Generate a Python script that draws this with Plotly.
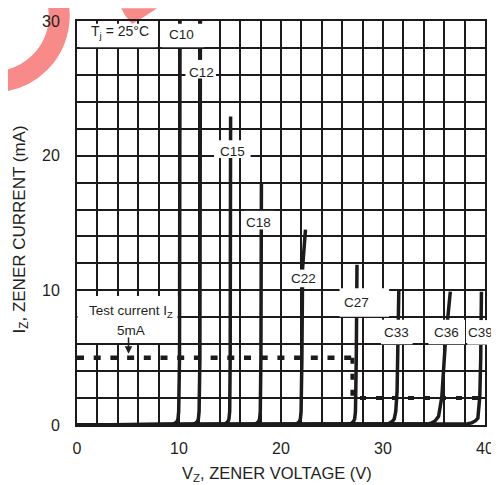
import plotly.graph_objects as go

# ---------------- data ----------------
diodes = ["C10", "C12", "C15", "C18", "C22", "C27", "C33", "C36", "C39"]
v_c10 = [0.0, 9.3, 9.6, 9.8, 9.9, 9.97, 10.05, 10.1]
i_c10 = [0.0, 0.05, 0.12, 0.25, 0.45, 1.0, 5.0, 30.0]
v_c12 = [0.0, 11.3, 11.6, 11.8, 11.9, 11.97, 12.05, 12.1]
i_c12 = [0.0, 0.05, 0.12, 0.25, 0.45, 1.0, 5.0, 30.0]
v_c15 = [0.0, 14.3, 14.6, 14.8, 14.9, 14.97, 15.02, 15.06]
i_c15 = [0.0, 0.05, 0.12, 0.25, 0.45, 1.0, 5.0, 22.9]
v_c18 = [0.0, 17.3, 17.6, 17.8, 17.9, 17.97, 18.03, 18.08]
i_c18 = [0.0, 0.05, 0.12, 0.25, 0.45, 1.0, 5.0, 17.9]
v_c22 = [0.0, 21.3, 21.6, 21.8, 21.9, 21.97, 22.05, 22.12, 22.4]
i_c22 = [0.0, 0.05, 0.12, 0.25, 0.45, 1.0, 5.0, 11.7, 14.5]
v_c27 = [0.0, 26.6, 26.9, 27.1, 27.22, 27.3, 27.38, 27.45]
i_c27 = [0.0, 0.05, 0.12, 0.25, 0.45, 1.0, 5.0, 11.9]
v_c33 = [0.0, 30.2, 30.6, 30.9, 31.1, 31.25, 31.38, 31.45, 31.55]
i_c33 = [0.0, 0.05, 0.12, 0.25, 0.45, 1.0, 2.5, 5.0, 10.0]
v_c36 = [0.0, 34.0, 34.5, 34.8, 35.1, 35.45, 35.77, 36.1, 36.6]
i_c36 = [0.0, 0.04, 0.1, 0.16, 0.3, 0.64, 2.1, 6.0, 9.9]
v_c39 = [0.0, 37.8, 38.3, 38.7, 39.05, 39.3, 39.49, 39.58, 39.65]
i_c39 = [0.0, 0.04, 0.1, 0.16, 0.3, 0.5, 2.1, 5.0, 9.9]

test_v = [0.0, 27.6]
test_i = [5.0, 5.0]
low_v = [27.0, 27.0, 40.0]
low_i = [5.0, 2.0, 2.0]

x_ticks = [0, 10, 20, 30, 40]
y_ticks = [0, 10, 20, 30]

curves = [(v_c10, i_c10), (v_c12, i_c12), (v_c15, i_c15), (v_c18, i_c18),
          (v_c22, i_c22), (v_c27, i_c27), (v_c33, i_c33), (v_c36, i_c36),
          (v_c39, i_c39)]

INK = "#1c1a1a"
TXT = "#231f20"
FONT = "Liberation Sans, Arial, sans-serif"
PINK = "#f98a8a"

fig = go.Figure()
for name, (v, i) in zip(diodes, curves):
    fig.add_trace(go.Scatter(x=v, y=i, mode="lines", name=name,
                             line=dict(color=INK, width=3.5), hoverinfo="skip"))

fig.add_trace(go.Scatter(x=test_v, y=test_i, mode="lines",
                         line=dict(color=INK, width=4.5, dash="7px,9.7px")))
fig.add_trace(go.Scatter(x=low_v, y=low_i, mode="lines",
                         line=dict(color=INK, width=4, dash="6px,10px")))

# ---------------- layout geometry (page pixels; page body has an 8px margin) ----------------
BODY = 8
L, T, W, H = 77, 13, 413, 412   # plot area position on the page
PAGE_W, PAGE_H = 499, 485


def pp(px, py):
    return (px - L) / W, (T + H - py) / H


shapes = []
# watermark ring
x0, y1 = pp(-75, -59)
x1, y0 = pp(59, 75)
shapes.append(dict(type="circle", xref="paper", yref="paper", x0=x0, x1=x1, y0=y0, y1=y1,
                   line=dict(color=PINK, width=21), fillcolor="rgba(0,0,0,0)", layer="below"))
pts = [pp(121.7, 0), pp(158, 0), pp(145, 9), pp(133, 16), pp(130, 13), pp(125, 7)]
path = ("M {:.4f},{:.4f} L {:.4f},{:.4f} Q {:.4f},{:.4f} {:.4f},{:.4f} "
        "L {:.4f},{:.4f} Q {:.4f},{:.4f} {:.4f},{:.4f} Z").format(
    pts[0][0], pts[0][1], pts[1][0], pts[1][1], pts[2][0], pts[2][1], pts[3][0], pts[3][1],
    pts[4][0], pts[4][1], pts[5][0], pts[5][1], pts[0][0], pts[0][1])
shapes.append(dict(type="path", xref="paper", yref="paper", path=path,
                   fillcolor=PINK, line=dict(width=0), layer="below"))

# white label boxes (data coords)
boxes = [
    (0.26, 7.82, 28.06, 29.8),
    (8.3, 12.47, 28.06, 29.8),
    (10.63, 13.63, 25.73, 27.11),
    (13.44, 17.02, 19.83, 21.15),
    (16.35, 19.35, 14.52, 15.9),
    (20.8, 23.7, 10.23, 11.54),
    (25.74, 30.6, 8.04, 10.15),
    (29.8, 32.9, 6.0, 7.82),
    (34.46, 38.04, 6.0, 7.82),
    (0.05, 9.85, 6.08, 9.57),
]
for bx0, bx1, by0, by1 in boxes:
    shapes.append(dict(type="rect", xref="x", yref="y", x0=bx0, x1=bx1, y0=by0, y1=by1,
                       fillcolor="white", line=dict(width=0), layer="above"))
# C39 box runs past the frame
cx0, cy1 = pp(472, 318)
cx1, cy0 = pp(499, 343)
shapes.append(dict(type="rect", xref="paper", yref="paper", x0=cx0, x1=cx1, y0=cy0, y1=cy1,
                   fillcolor="white", line=dict(width=0), layer="above"))

labels = [
    ("T<sub>j</sub> = 25°C", 4.23, 29.15, 14),
    ("C10", 10.24, 28.97, 13.5),
    ("C12", 12.18, 26.2, 13.5),
    ("C15", 15.28, 20.34, 13.5),
    ("C18", 17.78, 15.07, 13.5),
    ("C22", 22.23, 10.88, 13.5),
    ("C27", 27.44, 9.13, 13.5),
    ("C33", 31.37, 6.88, 13.5),
    ("C36", 36.21, 6.88, 13.5),
    ("C39", 39.6, 6.88, 13.5),
    ("Test current I<sub>Z</sub>", 5.3, 8.4, 13.5),
    ("5mA", 5.3, 7.0, 13.5),
]
annotations = []
for text, x, y, fs in labels:
    annotations.append(dict(text=text, x=x, y=y, xref="x", yref="y", showarrow=False,
                            font=dict(family=FONT, size=fs, color=TXT),
                            xanchor="center", yanchor="middle"))
annotations.append(dict(text="", x=5.05, y=5.3, ax=5.05, ay=6.6, xref="x", yref="y",
                        axref="x", ayref="y", showarrow=True, arrowhead=2, arrowsize=1,
                        arrowwidth=1.5, arrowcolor=TXT))
annotations.append(dict(text="V<sub>Z</sub>, ZENER VOLTAGE (V)", x=pp(279, 0)[0], y=pp(0, 475)[1],
                        xref="paper", yref="paper", showarrow=False,
                        font=dict(family=FONT, size=16.5, color=TXT),
                        xanchor="center", yanchor="middle"))
annotations.append(dict(text="I<sub>Z</sub>, ZENER CURRENT (mA)", x=pp(20, 0)[0], y=pp(0, 226)[1],
                        xref="paper", yref="paper", showarrow=False, textangle=-90,
                        font=dict(family=FONT, size=17, color=TXT),
                        xanchor="center", yanchor="middle"))

grid = dict(showgrid=True, gridcolor=INK, gridwidth=2)
fig.update_layout(
    width=PAGE_W - BODY, height=PAGE_H - BODY,
    margin=dict(l=L - BODY, r=PAGE_W - L - W, t=T - BODY, b=PAGE_H - T - H, pad=0),
    paper_bgcolor="white", plot_bgcolor="white",
    showlegend=False,
    shapes=shapes, annotations=annotations,
    xaxis=dict(range=[0, 40], tickmode="array", tickvals=x_ticks,
               ticktext=[str(t) for t in x_ticks], ticks="", ticklabelstandoff=8,
               ticklabeloverflow="allow",
               tickfont=dict(family=FONT, size=16, color=TXT),
               minor=dict(dtick=2, tick0=0, showgrid=True, gridcolor=INK, gridwidth=2),
               showline=True, mirror=True, linecolor=INK, linewidth=2,
               zeroline=True, zerolinecolor=INK, zerolinewidth=3, **grid),
    yaxis=dict(range=[0, 30], tickmode="array", tickvals=y_ticks,
               ticktext=[str(t) for t in y_ticks], ticks="", ticklabelstandoff=12,
               ticklabeloverflow="allow",
               tickfont=dict(family=FONT, size=16, color=TXT),
               minor=dict(dtick=2, tick0=0, showgrid=True, gridcolor=INK, gridwidth=2),
               showline=True, mirror=True, linecolor=INK, linewidth=2,
               zeroline=True, zerolinecolor=INK, zerolinewidth=4, **grid),
)

fig.write_html("out.html")
